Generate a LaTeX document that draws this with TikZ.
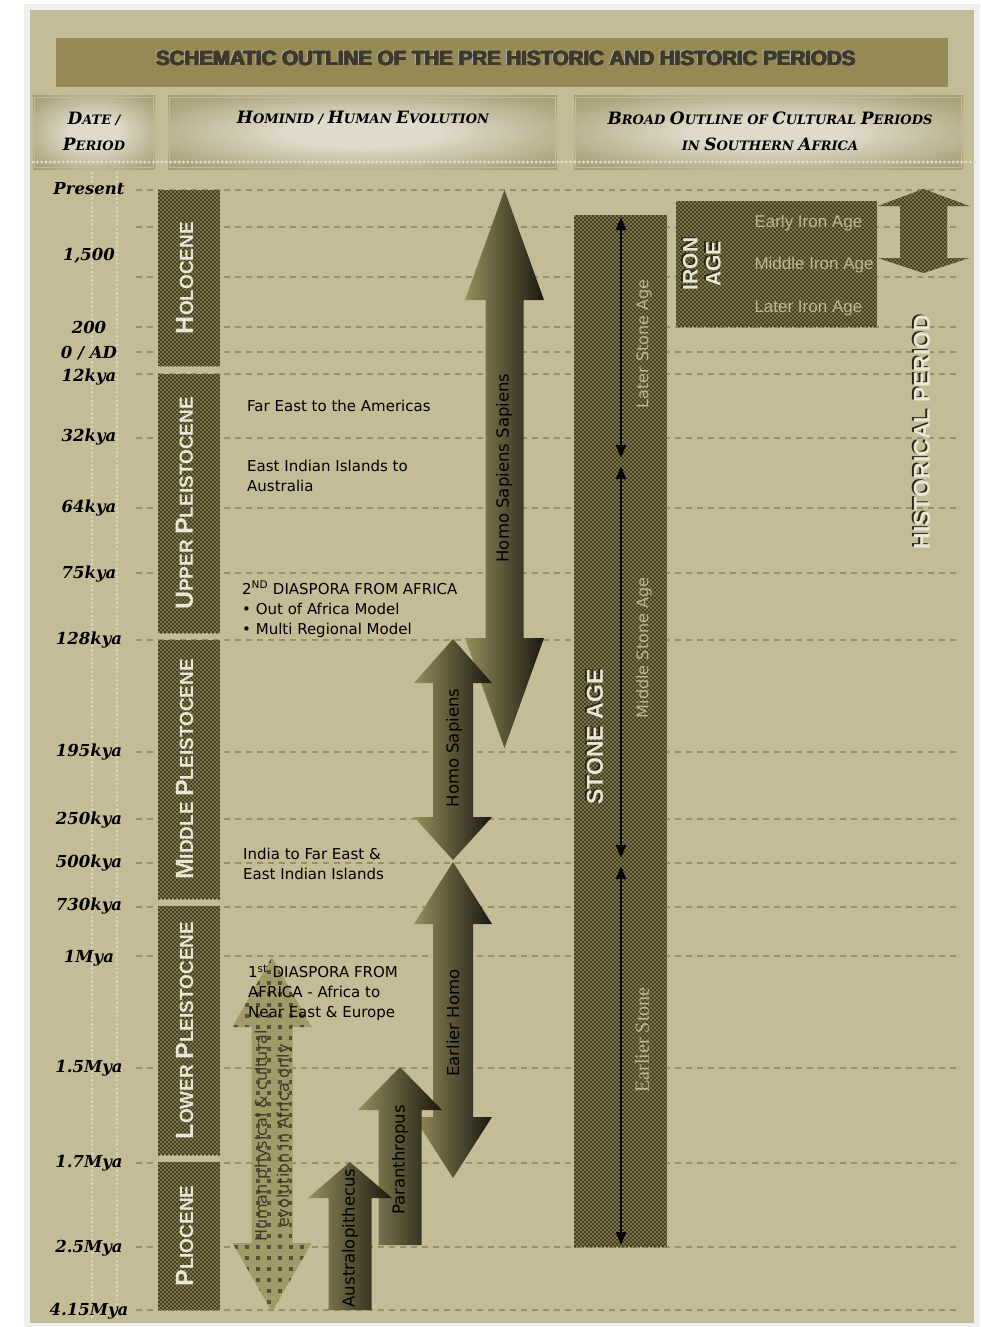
\documentclass[tikz,border=0pt]{standalone}
\usepackage{fontspec}
\newfontfamily\labelfont{DejaVu Sans}
\newfontfamily\heavyfont{Liberation Sans}
\newfontfamily\stonefont{Liberation Serif}
\newfontfamily\datefont{DejaVu Serif}
\usetikzlibrary{patterns,arrows.meta}

\definecolor{pagegray}{HTML}{EFEFEF}
\definecolor{tanbg}{HTML}{C4BC96}
\definecolor{olivebar}{HTML}{958A55}
\definecolor{headlight}{HTML}{DFDACA}
\colorlet{headmid}{olivebar!65!headlight}
\definecolor{gridcol}{HTML}{9A9162}
\definecolor{dotcol}{HTML}{E2DECB}
\definecolor{checkdark}{HTML}{3D3826}
\definecolor{checklight}{HTML}{7F7648}
\definecolor{arrowlight}{HTML}{978E5D}
\definecolor{arrowdark}{HTML}{1A1810}
\definecolor{paleword}{HTML}{EAE6D6}
\definecolor{fadeword}{HTML}{BDB692}
\definecolor{titledark}{HTML}{3E3A27}
\definecolor{titlegray}{HTML}{A8A8A8}
\definecolor{dotarrow}{HTML}{A39A69}
\definecolor{dotsquare}{HTML}{58523A}
\definecolor{dotword}{HTML}{3E3925}
\definecolor{shadowcol}{HTML}{2A2718}

\pgfdeclareradialshading{headglow}{\pgfpointorigin}{color(0bp)=(headlight); color(10bp)=(headlight); color(30bp)=(headmid); color(46bp)=(olivebar); color(60bp)=(olivebar)}
\pgfdeclarepatternformonly{finecheck}{\pgfqpoint{-0.1pt}{-0.1pt}}{\pgfqpoint{4.1pt}{4.1pt}}{\pgfqpoint{4pt}{4pt}}{%
	\pgfpathrectangle{\pgfpointorigin}{\pgfqpoint{2pt}{2pt}}%
	\pgfpathrectangle{\pgfqpoint{2pt}{2pt}}{\pgfqpoint{2pt}{2pt}}%
	\pgfusepath{fill}}

\newcommand{\initcap}[1]{{\fontsize{25}{25}\selectfont #1}}
\newcommand{\hcap}[1]{{\fontsize{17}{26}\selectfont #1}}
\newcommand{\titletext}{SCHEMATIC OUTLINE OF THE PRE HISTORIC AND HISTORIC PERIODS}

\tikzset{
	gridline/.style={gridcol, line width=1.2pt, dash pattern=on 6pt off 5pt},
	pearls/.style={dotcol, line width=3.2pt, line cap=round, dash pattern=on 0pt off 4.3pt},
	checkbox/.style={fill=checkdark, postaction={pattern=finecheck, pattern color=checklight}},
	headrim/.style={draw=headlight!60!olivebar, line width=0.8pt},
	headtxt/.style={font=\datefont\fontsize{13}{26}\selectfont\bfseries\itshape, align=center},
	datetxt/.style={font=\datefont\fontsize{16.5}{16.5}\selectfont\bfseries\itshape, anchor=base},
	titletxt/.style={font=\heavyfont\bfseries\fontsize{20.5}{20.5}\selectfont},
	epochtxt/.style={font=\heavyfont\bfseries\fontsize{19}{19}\selectfont, text=paleword, rotate=90},
	hominidtxt/.style={font=\labelfont\fontsize{16.5}{16.5}\selectfont, rotate=90},
	notetxt/.style={font=\labelfont\fontsize{15}{20}\selectfont, align=left, anchor=north west, inner sep=0pt},
	stagetxt/.style={font=\labelfont\fontsize{16}{16}\selectfont, text=fadeword, rotate=90},
	irontxt/.style={font=\heavyfont\fontsize{17}{17}\selectfont, text=fadeword, anchor=base west},
	bannertxt/.style={font=\heavyfont\bfseries\fontsize{23}{23}\selectfont, rotate=90, align=center, text=paleword},
	bannershd/.style={font=\heavyfont\bfseries\fontsize{23}{23}\selectfont, rotate=90, align=center, text=shadowcol},
	stonearrow/.style={line width=2pt, {Triangle[length=13pt,width=10pt]}-{Triangle[length=13pt,width=10pt]}},
	gradarrow/.style={left color=arrowlight, right color=arrowdark},
}

\begin{document}
\begin{tikzpicture}[x=1pt, y=-1pt]
	% page and panel
	\fill[white] (0,0) rectangle (981,1327);
	\fill[pagegray] (24,4) rectangle (980,1327);
	\fill[tanbg] (30,10) rectangle (974,1323);
	\useasboundingbox (0,0) rectangle (981,1327);

	% title bar
	\fill[olivebar] (56,38) rectangle (948,87);
	\node[titletxt, text=titlegray] (titleshd) at (504,57) {\titletext};
	\foreach \dx/\dy [count=\i] in {0/0, 0.6/0, 1.2/0, 0/0.6, 0.6/0.6, 1.2/0.6}
		\node[titletxt, text=titledark] (title\i) at (505.2+\dx,58.2+\dy) {\titletext};

	% column heads
	\foreach \xa/\xb in {33/155, 168/557, 574/963}{
		\shade[shading=headglow] (\xa,96) rectangle (\xb,169);
		\draw[headrim] (\xa+1.5,97.5) rectangle (\xb-1.5,167.5);}
	\node[headtxt] (datehead) at (94,131) {\hcap{D}ATE /\\\hcap{P}ERIOD};
	\node[headtxt] (hominidhead) at (363,118) {\hcap{H}OMINID / \hcap{H}UMAN \hcap{E}VOLUTION};
	\node[headtxt] (culturehead) at (770,131)
		{\hcap{B}ROAD \hcap{O}UTLINE OF \hcap{C}ULTURAL \hcap{P}ERIODS\\IN \hcap{S}OUTHERN \hcap{A}FRICA};
	\draw[pearls] (33,162) -- (976,162);
	\foreach \x in {92, 117}
		\draw[pearls, opacity=0.7] (\x,173) -- (\x,1318);

	% time grid
	\foreach \y in {190, 227, 277, 327, 352, 374, 438, 508, 573, 640, 752, 819, 863, 907, 956, 1068, 1163, 1247, 1310}
		\draw[gridline] (136,\y) -- (958,\y);
	\foreach \y/\lbl in {188/Present, 254/{1,500}, 327/200, 352/{0 / AD}, 375/12kya, 435/32kya, 506/64kya,
		572/75kya, 638/128kya, 750/195kya, 818/250kya, 861/500kya, 904/730kya, 956/1Mya, 1066/1.5Mya,
		1161/1.7Mya, 1246/2.5Mya, 1309/4.15Mya}
		\node[datetxt] (date\y) at (89,\y+6) {\lbl};

	% geological epochs
	\foreach \ya/\yb/\lbl in {190/366/{\initcap{H}OLOCENE}, 374/633/{\initcap{U}PPER \initcap{P}LEISTOCENE},
		640/899/{\initcap{M}IDDLE \initcap{P}LEISTOCENE}, 906/1155/{\initcap{L}OWER \initcap{P}LEISTOCENE},
		1162/1310/{\initcap{P}LIOCENE}}{
		\path[checkbox] (158,\ya) rectangle (220,\yb);
		\node[epochtxt] (epoch\ya) at (184.5,{(\ya+\yb)/2}) {\lbl};}

	% hominid arrows
	\foreach \cx/\w/\h/\ya/\yb/\yc/\yd in {504.5/19/39.5/190/300/638/748, 453/20/39/639/683/817/860, 453/20/39/862/924/1117/1178}
		\shade[gradarrow] (\cx,\ya) -- (\cx+\h,\yb) -- (\cx+\w,\yb) -- (\cx+\w,\yc) -- (\cx+\h,\yc) -- (\cx,\yd)
			-- (\cx-\h,\yc) -- (\cx-\w,\yc) -- (\cx-\w,\yb) -- (\cx-\h,\yb) -- cycle;
	\foreach \cx/\w/\h/\ya/\yb/\yd in {400/21.5/42/1067/1110/1245, 350/21.5/42/1162/1198/1310}
		\shade[gradarrow] (\cx,\ya) -- (\cx+\h,\yb) -- (\cx+\w,\yb) -- (\cx+\w,\yd)
			-- (\cx-\w,\yd) -- (\cx-\w,\yb) -- (\cx-\h,\yb) -- cycle;
	\node[hominidtxt] (hss) at (504,468) {Homo Sapiens Sapiens};
	\node[hominidtxt] (hs) at (454,748) {Homo Sapiens};
	\node[hominidtxt] (ehomo) at (453,1023) {Earlier Homo};
	\node[hominidtxt] (para) at (400,1160) {Paranthropus};
	\node[hominidtxt] (austra) at (350,1238) {Australopithecus};

	% evolution in Africa only
	\begin{scope}
		\clip (272,957) -- (311.5,1027) -- (292.5,1027) -- (292.5,1243) -- (311.5,1243) -- (272,1312)
			-- (232.5,1243) -- (251.5,1243) -- (251.5,1027) -- (232.5,1027) -- cycle;
		\fill[dotarrow] (230,950) rectangle (315,1315);
		\foreach \x in {236, 247, ..., 313}
			\foreach \y in {950, 961, ..., 1315}
				\fill[dotsquare] (\x-2.2,\y-2.2) rectangle (\x+2.2,\y+2.2);
	\end{scope}
	\node[font=\labelfont\fontsize{16}{22}\selectfont, text=dotword, rotate=90, align=center] (africaonly)
		at (273.5,1136) {Human physical \& cultural\\evolution in Africa only};

	% dispersal notes
	\node[notetxt] (note1) at (247,400) {Far East to the Americas};
	\node[notetxt] (note2) at (247,460) {East Indian Islands to\\Australia};
	\node[notetxt] (note3) at (242,581) {2\textsuperscript{ND} DIASPORA FROM AFRICA\\• Out of Africa Model\\• Multi Regional Model};
	\node[notetxt] (note4) at (243,848) {India to Far East \&\\East Indian Islands};
	\node[notetxt] (note5) at (248,965) {1\textsuperscript{st} DIASPORA FROM\\AFRICA - Africa to\\Near East \& Europe};

	% stone age
	\path[checkbox] (574,215) rectangle (667,1247);
	\coordinate (lsatop) at (621,217);
	\coordinate (lsaend) at (621,458);
	\coordinate (msatop) at (621,466);
	\coordinate (msaend) at (621,858);
	\coordinate (esatop) at (621,866);
	\coordinate (esaend) at (621,1245);
	\draw[stonearrow] (lsatop) -- (lsaend);
	\draw[stonearrow] (msatop) -- (msaend);
	\draw[stonearrow] (esatop) -- (esaend);
	\node[stagetxt] (lsa) at (644,344) {Later Stone Age};
	\node[stagetxt] (msa) at (644,648) {Middle Stone Age};
	\node[stagetxt, font=\stonefont\fontsize{20}{20}\selectfont] (esa) at (642,1040) {Earlier Stone};
	\node[bannershd] (stoneshd) at (593,736) {STONE AGE};
	\node[bannertxt] (stone) at (595,737) {STONE AGE};

	% iron age
	\path[checkbox] (676,201) rectangle (877,327);
	\node[bannershd, font=\heavyfont\bfseries\fontsize{21}{23}\selectfont] (ironshd) at (700,263) {IRON\\AGE};
	\node[bannertxt, font=\heavyfont\bfseries\fontsize{21}{23}\selectfont] (iron) at (702,264) {IRON\\AGE};
	\foreach \y/\lbl in {221/Early Iron Age, 263/Middle Iron Age, 306/Later Iron Age}
		\node[irontxt] (iron\y) at (751,\y+6) {\lbl};

	% historical period
	\path[checkbox] (923.5,189) -- (969,206) -- (947,206) -- (947,258) -- (969,258) -- (923.5,273)
		-- (878,258) -- (900,258) -- (900,206) -- (878,206) -- cycle;
	\node[bannershd] (histshd) at (920,431) {HISTORICAL PERIOD};
	\node[bannertxt] (hist) at (922,432) {HISTORICAL PERIOD};
\end{tikzpicture}
\end{document}
